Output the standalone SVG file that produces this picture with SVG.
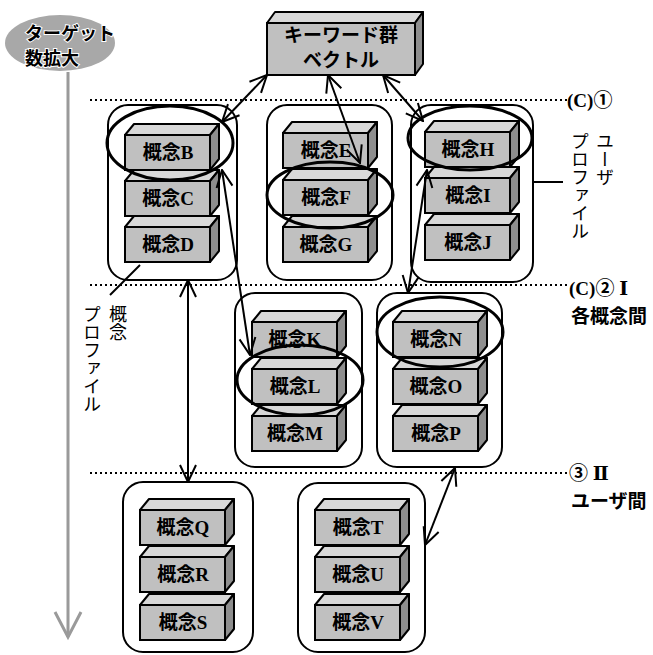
<svg xmlns="http://www.w3.org/2000/svg" xmlns:xlink="http://www.w3.org/1999/xlink" width="653" height="655" viewBox="0 0 653 655">
<style>
.top{fill:#d8d8d8;stroke:#000;stroke-width:2;stroke-linejoin:round}
.side{fill:#8e8e8e;stroke:#000;stroke-width:2;stroke-linejoin:round}
.front{fill:#c0c0c0;stroke:#000;stroke-width:2}
.grp{fill:#fff;stroke:#000;stroke-width:2}
.ell{fill:none;stroke:#000;stroke-width:3}
.lbl{font-family:"Liberation Serif","Noto Sans CJK JP",serif;font-weight:bold;font-size:19px;fill:#000;text-anchor:middle}
.con{stroke:#000;stroke-width:2;fill:none;marker-start:url(#ah);marker-end:url(#ah)}
.dot{stroke:#000;stroke-width:2.2;stroke-dasharray:2 3;fill:none}
.jp{font-family:"Noto Sans CJK JP",sans-serif;font-size:18px;fill:#000}
.vt{writing-mode:vertical-rl}
.num{font-family:"Liberation Serif","DejaVu Serif","Noto Sans CJK JP",serif;font-weight:bold;font-size:19px;fill:#000}
</style>
<defs>
<marker id="ah" viewBox="0 0 20 20" refX="19" refY="10" markerWidth="20" markerHeight="20" markerUnits="userSpaceOnUse" orient="auto-start-reverse">
<path d="M2,2 L19,10 L2,18" fill="none" stroke="#000" stroke-width="2"/>
</marker>
<g id="box">
<polygon class="top" points="0,0 9,-11 94,-11 85,0"/>
<polygon class="side" points="85,0 94,-11 94,24 85,35"/>
<rect class="front" x="0" y="0" width="85" height="35"/>
</g>
</defs>
<rect width="653" height="655" fill="#fff"/>

<!-- target axis -->
<g id="target">
<ellipse cx="60" cy="43" rx="55" ry="28" fill="#a8a8a8"/>
<text x="25" y="40" font-family="Noto Sans CJK JP,sans-serif" font-weight="bold" font-size="18" fill="#000" stroke="#fff" stroke-width="2" paint-order="stroke">ターゲット</text>
<text x="25" y="65" font-family="Noto Sans CJK JP,sans-serif" font-weight="bold" font-size="18" fill="#000" stroke="#fff" stroke-width="2" paint-order="stroke">数拡大</text>
<line x1="68" y1="72" x2="68" y2="637" stroke="#9a9a9a" stroke-width="3"/>
<path d="M55,612 L68,637 L81,612" fill="none" stroke="#9a9a9a" stroke-width="3"/>
</g>

<!-- keyword box -->
<g id="keyword">
<polygon class="top" points="267,23 275,12 423,12 415,23"/>
<polygon class="side" points="415,23 423,12 423,64 415,75"/>
<rect class="front" x="267" y="23" width="148" height="52"/>
<text x="341" y="42" font-family="Noto Sans CJK JP,sans-serif" font-weight="bold" font-size="19" text-anchor="middle">キーワード群</text>
<text x="341" y="67" font-family="Noto Sans CJK JP,sans-serif" font-weight="bold" font-size="19" text-anchor="middle">ベクトル</text>
</g>

<!-- dotted level lines -->
<g id="levels">
<line class="dot" x1="90" y1="100" x2="567" y2="100"/>
<line class="dot" x1="90" y1="285" x2="567" y2="285"/>
<line class="dot" x1="90" y1="473" x2="567" y2="473"/>
<text class="num" x="567" y="107">(C)①</text>
<text class="num" x="569" y="295">(C)② Ⅰ</text>
<text x="571" y="323" font-family="Noto Sans CJK JP,sans-serif" font-weight="bold" font-size="19">各概念間</text>
<text class="num" x="569" y="480">③ Ⅱ</text>
<text x="571" y="508" font-family="Noto Sans CJK JP,sans-serif" font-weight="bold" font-size="19">ユーザ間</text>
</g>

<!-- group 1 -->
<g id="g1">
<rect class="grp" x="108" y="105" width="129" height="175" rx="20"/>
<use href="#box" x="125" y="135"/><text class="lbl" x="168" y="159">概念B</text>
<use href="#box" x="125" y="181"/><text class="lbl" x="168" y="205">概念C</text>
<use href="#box" x="125" y="227"/><text class="lbl" x="168" y="251">概念D</text>
<ellipse class="ell" cx="170" cy="143" rx="63" ry="37"/>
</g>

<!-- group 2 -->
<g id="g2">
<rect class="grp" x="267" y="105" width="125" height="175" rx="20"/>
<use href="#box" x="283" y="133"/><text class="lbl" x="326" y="157">概念E</text>
<use href="#box" x="283" y="180"/><text class="lbl" x="326" y="204">概念F</text>
<use href="#box" x="283" y="227"/><text class="lbl" x="326" y="251">概念G</text>
<ellipse class="ell" cx="330" cy="195" rx="63" ry="33"/>
</g>

<!-- group 3 -->
<g id="g3">
<rect class="grp" x="411" y="105" width="122" height="177" rx="20"/>
<use href="#box" x="425" y="132"/><text class="lbl" x="468" y="156">概念H</text>
<use href="#box" x="425" y="178"/><text class="lbl" x="468" y="202">概念I</text>
<use href="#box" x="425" y="225"/><text class="lbl" x="468" y="249">概念J</text>
<ellipse class="ell" cx="470" cy="138" rx="62" ry="32"/>
</g>

<!-- group 4 -->
<g id="g4">
<rect class="grp" x="235" y="293" width="127" height="174" rx="20"/>
<use href="#box" x="252" y="322"/><text class="lbl" x="295" y="346">概念K</text>
<use href="#box" x="252" y="369"/><text class="lbl" x="295" y="393">概念L</text>
<use href="#box" x="252" y="416"/><text class="lbl" x="295" y="440">概念M</text>
<ellipse class="ell" cx="300" cy="380" rx="63" ry="35"/>
</g>

<!-- group 5 -->
<g id="g5">
<rect class="grp" x="377" y="293" width="125" height="174" rx="20"/>
<use href="#box" x="393" y="322"/><text class="lbl" x="436" y="346">概念N</text>
<use href="#box" x="393" y="369"/><text class="lbl" x="436" y="393">概念O</text>
<use href="#box" x="393" y="416"/><text class="lbl" x="436" y="440">概念P</text>
<ellipse class="ell" cx="440" cy="332" rx="63" ry="35"/>
</g>

<!-- group 6 -->
<g id="g6">
<rect class="grp" x="123" y="482" width="130" height="170" rx="20"/>
<use href="#box" x="140" y="510"/><text class="lbl" x="183" y="534">概念Q</text>
<use href="#box" x="140" y="557"/><text class="lbl" x="183" y="581">概念R</text>
<use href="#box" x="140" y="605"/><text class="lbl" x="183" y="629">概念S</text>
</g>

<!-- group 7 -->
<g id="g7">
<rect class="grp" x="298" y="483" width="127" height="169" rx="20"/>
<use href="#box" x="315" y="510"/><text class="lbl" x="358" y="534">概念T</text>
<use href="#box" x="315" y="557"/><text class="lbl" x="358" y="581">概念U</text>
<use href="#box" x="315" y="605"/><text class="lbl" x="358" y="629">概念V</text>
</g>

<!-- side labels -->
<g id="userprofile-label">
<line x1="533" y1="182" x2="563" y2="182" stroke="#000" stroke-width="2"/>
<text class="jp vt" x="605" y="132">ユーザ</text>
<text class="jp vt" x="580" y="132">プロファイル</text>
</g>
<g id="conceptprofile-label">
<line x1="140" y1="265" x2="110" y2="295" stroke="#000" stroke-width="2"/>
<text class="jp vt" x="118" y="305">概念</text>
<text class="jp vt" x="92" y="305">プロファイル</text>
</g>

<!-- connectors -->
<g id="connectors">
<line class="con" x1="267" y1="75" x2="222" y2="122"/>
<line class="con" x1="328" y1="75" x2="360" y2="163"/>
<line class="con" x1="383" y1="75" x2="423" y2="121"/>
<line class="con" x1="222" y1="170" x2="250" y2="355"/>
<line class="con" x1="427" y1="170" x2="408" y2="293"/>
<line class="con" x1="188" y1="280" x2="188" y2="482"/>
<line class="con" x1="455" y1="468" x2="425" y2="545"/>
</g>
</svg>
